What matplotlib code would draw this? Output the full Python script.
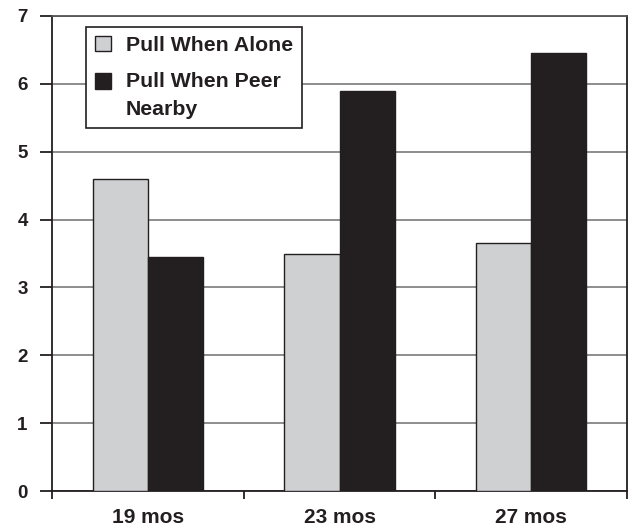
import matplotlib
matplotlib.use("Agg")
import matplotlib.pyplot as plt
from matplotlib.patches import Patch, Rectangle
from matplotlib.legend_handler import HandlerPatch
import numpy as np

categories = ["19 mos", "23 mos", "27 mos"]
alone = [4.6, 3.5, 3.65]
peer = [3.45, 5.9, 6.45]
series_labels = ["Pull When Alone", "Pull When Peer\nNearby"]

LIGHT = "#cfd0d2"
DARK = "#231f20"

plt.rcParams['font.family'] = ['Liberation Sans', 'DejaVu Sans']
plt.rcParams['font.weight'] = 'bold'

fig = plt.figure(figsize=(6.33, 5.30), dpi=100)
ax = fig.add_axes([52/633, 39/530, 575/633, 475/530])

x = np.arange(len(categories))
w = 0.287
ax.bar(x - w/2, alone, width=w, color=LIGHT, edgecolor=DARK, linewidth=1.0, zorder=3)
ax.bar(x + w/2, peer, width=w, color=DARK, edgecolor=DARK, linewidth=1.0, zorder=3)

ax.set_xlim(-0.5, len(categories) - 0.5)
ax.set_ylim(0, 7)
ax.set_yticks(range(0, 8))
ax.yaxis.grid(True, color="#858585", linewidth=1.3, zorder=0)
ax.set_axisbelow(True)

ax.set_xticks(np.arange(-0.5, len(categories), 1.0))
ax.set_xticklabels([])
ax.set_xticks(x, minor=True)
ax.set_xticklabels(categories, minor=True, fontsize=15, fontweight='bold', color=DARK)
ax.tick_params(axis='x', which='major', length=6, width=1.3, color=DARK, direction='out')
ax.tick_params(axis='x', which='minor', length=0, pad=12)
ax.tick_params(axis='y', length=8.5, width=1.3, color=DARK, direction='out', pad=9,
               labelsize=13.5, labelcolor=DARK)
for lab in ax.get_yticklabels():
    lab.set_fontweight('bold')

for s in ax.spines.values():
    s.set_color(DARK)
    s.set_linewidth(1.3)
ax.spines['top'].set_color("#555555")

FS = 15.3
LINESP = 1.65


def top_aligned_patch(legend, orig_handle, xdescent, ydescent, width, height, fontsize):
    # shift handle up so it lines up with the first line of a two-line label
    return Rectangle((-xdescent, -ydescent + 10.6), width, height)


def plain_patch(legend, orig_handle, xdescent, ydescent, width, height, fontsize):
    return Rectangle((-xdescent, -ydescent), width, height)


handles = [Patch(facecolor=LIGHT, edgecolor=DARK, linewidth=1.0),
           Patch(facecolor=DARK, edgecolor=DARK, linewidth=1.0)]
leg = ax.legend(handles, series_labels, loc='upper left', bbox_to_anchor=(0.059, 0.977),
                borderaxespad=0, fancybox=False, frameon=True, framealpha=1,
                edgecolor=DARK, handlelength=0.75, handleheight=0.75, handletextpad=0.7,
                borderpad=0.42, labelspacing=0.78,
                handler_map={handles[0]: HandlerPatch(patch_func=plain_patch),
                             handles[1]: HandlerPatch(patch_func=top_aligned_patch)},
                prop={'family': 'Liberation Sans', 'weight': 'bold', 'size': FS})
leg.get_frame().set_linewidth(1.2)
for t in leg.get_texts():
    t.set_color(DARK)
    t.set_linespacing(LINESP)

fig.savefig("out.png", dpi=100)
